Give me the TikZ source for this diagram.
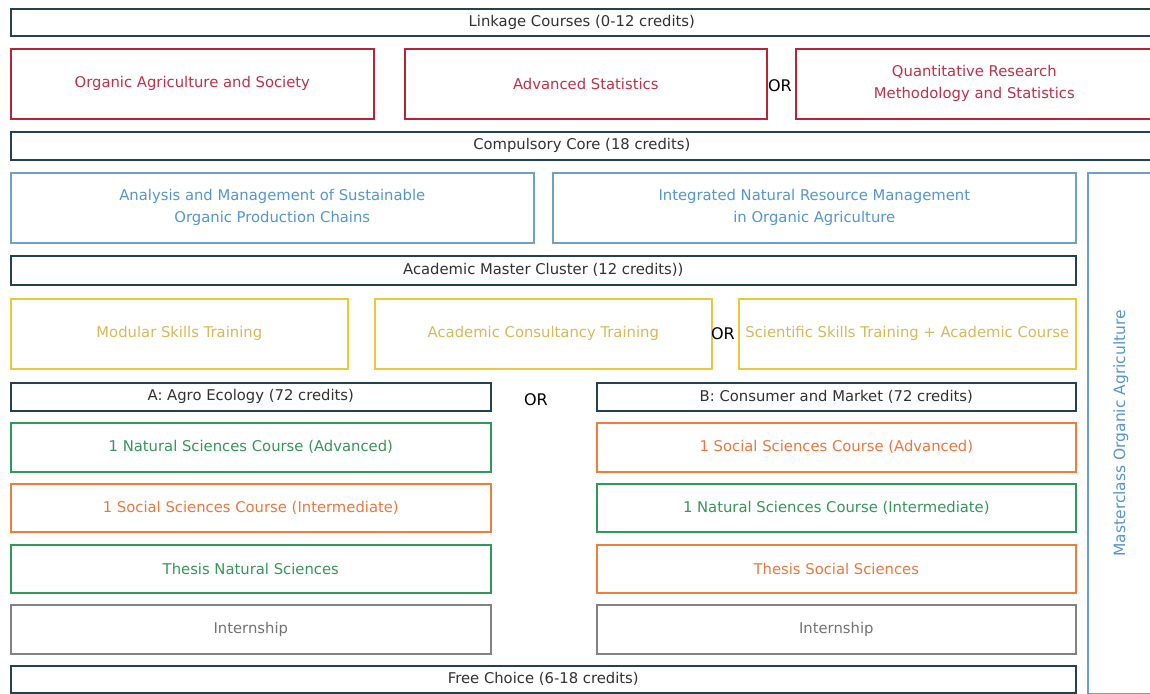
\documentclass[tikz,border=0pt]{standalone}
\usepackage{fontspec}
\setmainfont{DejaVu Sans}
\definecolor{cDark}{RGB}{35,65,80}
\definecolor{cDarkT}{RGB}{50,50,50}
\definecolor{cRed}{RGB}{185,35,55}
\definecolor{cRedT}{RGB}{190,50,75}
\definecolor{cBlue}{RGB}{110,160,205}
\definecolor{cBlueT}{RGB}{85,150,210}
\definecolor{cYel}{RGB}{235,200,60}
\definecolor{cYelT}{RGB}{215,185,90}
\definecolor{cGrn}{RGB}{45,155,90}
\definecolor{cGrnT}{RGB}{55,150,90}
\definecolor{cOrg}{RGB}{240,125,60}
\definecolor{cOrgT}{RGB}{235,120,65}
\definecolor{cGry}{RGB}{130,130,130}
\definecolor{cGryT}{RGB}{115,115,115}
\tikzset{
  bx/.style={draw, line width=1.6pt, inner sep=0pt, anchor=north west, align=center,
    font=\fontsize{14.8}{22}\selectfont},
  hdr/.style={bx, draw=cDark, text=cDarkT},
  red/.style={bx, draw=cRed, text=cRedT},
  blu/.style={bx, draw=cBlue, text=cBlueT},
  yel/.style={bx, draw=cYel, text=cYelT},
  grn/.style={bx, draw=cGrn, text=cGrnT},
  org/.style={bx, draw=cOrg, text=cOrgT},
  gry/.style={bx, draw=cGry, text=cGryT},
  orlbl/.style={font=\fontsize{16}{18}\selectfont, text=black, inner sep=0pt}
}
\begin{document}
\begin{tikzpicture}[x=1pt,y=-1pt]
\fill[white] (0,0) rectangle (1150,693);
\useasboundingbox (0,0) rectangle (1150,693);
% row 1
\node[hdr, minimum width=1142pt, minimum height=27pt] (link) at (10,8) {Linkage Courses (0-12 credits)};
\node[red, minimum width=363pt, minimum height=70pt] (oas) at (10,48) {Organic Agriculture and Society};
\node[red, minimum width=362pt, minimum height=70pt] (ast) at (404,48) {Advanced Statistics};
\node[orlbl] (or1) at (780,86) {OR};
\node[red, minimum width=357pt, minimum height=70pt] (qrm) at (795,48) {Quantitative Research\\Methodology and Statistics};
% compulsory
\node[hdr, minimum width=1142pt, minimum height=28pt] (core) at (10,131) {Compulsory Core (18 credits)};
\node[blu, minimum width=523pt, minimum height=70pt] (amc) at (10,172) {Analysis and Management of Sustainable\\Organic Production Chains};
\node[blu, minimum width=523pt, minimum height=70pt] (inr) at (552,172) {Integrated Natural Resource Management\\in Organic Agriculture};
% masterclass
\node[bx, draw=cBlue, minimum width=66pt, minimum height=521pt] (mc) at (1087,172) {};
\node[text=cBlueT, rotate=90, font=\fontsize{15.5}{18}\selectfont, inner sep=0pt] (mct) at (mc.center) {Masterclass Organic Agriculture};
% academic master cluster
\node[hdr, minimum width=1065pt, minimum height=29pt] (amcl) at (10,255) {Academic Master Cluster (12 credits))};
\node[yel, minimum width=337pt, minimum height=70pt] (mst) at (10,298) {Modular Skills Training};
\node[yel, minimum width=337pt, minimum height=70pt] (act) at (374,298) {Academic Consultancy Training};
\node[orlbl] (or2) at (723,334) {OR};
\node[yel, minimum width=337pt, minimum height=70pt] (sst) at (738,298) {Scientific Skills Training + Academic Course};
% tracks
\node[hdr, minimum width=480pt, minimum height=28pt] (ta) at (10,382) {A: Agro Ecology (72 credits)};
\node[orlbl] (or3) at (536,400) {OR};
\node[hdr, minimum width=479pt, minimum height=28pt] (tb) at (596,382) {B: Consumer and Market (72 credits)};
\node[grn, minimum width=480pt, minimum height=49pt] (a1) at (10,422) {1 Natural Sciences Course (Advanced)};
\node[org, minimum width=480pt, minimum height=48pt] (a2) at (10,483) {1 Social Sciences Course (Intermediate)};
\node[grn, minimum width=480pt, minimum height=48pt] (a3) at (10,544) {Thesis Natural Sciences};
\node[gry, minimum width=480pt, minimum height=49pt] (a4) at (10,604) {Internship};
\node[org, minimum width=479pt, minimum height=49pt] (b1) at (596,422) {1 Social Sciences Course (Advanced)};
\node[grn, minimum width=479pt, minimum height=48pt] (b2) at (596,483) {1 Natural Sciences Course (Intermediate)};
\node[org, minimum width=479pt, minimum height=48pt] (b3) at (596,544) {Thesis Social Sciences};
\node[gry, minimum width=479pt, minimum height=49pt] (b4) at (596,604) {Internship};
\node[hdr, minimum width=1065pt, minimum height=27pt] (free) at (10,665) {Free Choice (6-18 credits)};
\end{tikzpicture}
\end{document}
